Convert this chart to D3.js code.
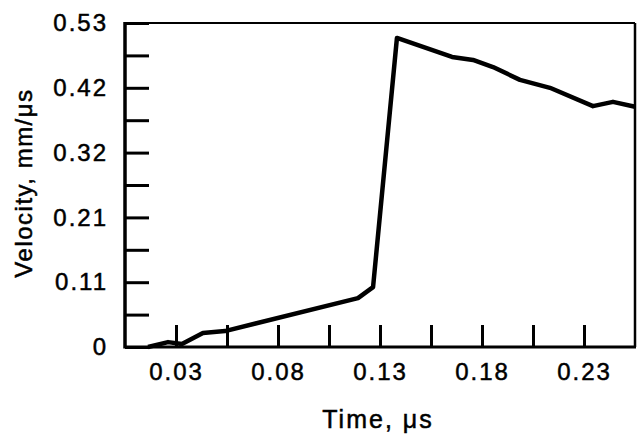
<!DOCTYPE html>
<html>
<head>
<meta charset="utf-8">
<script src="https://cdn.jsdelivr.net/npm/d3@7"></script>
<style>
  body { margin: 0; background: #fff; }
  text { font-family: "Liberation Sans", Arial, Helvetica, sans-serif; fill: #000; stroke: #000; stroke-width: 0.5px; }
</style>
</head>
<body>
<div id="chart"></div>
<script>
// curve (time in us, velocity in mm/us)
var timeVals = [0.0163, 0.0261, 0.0329, 0.0432, 0.054, 0.1192, 0.1266, 0.1383,
                0.1653, 0.1756, 0.1854, 0.1986, 0.2133, 0.2344, 0.2442, 0.255];
var velocityVals = [0, 0.008, 0.005, 0.023, 0.026, 0.080, 0.098, 0.5055,
                    0.4745, 0.4695, 0.458, 0.437, 0.424, 0.394, 0.401, 0.393];

var xTicks = [0.03, 0.055, 0.08, 0.105, 0.13, 0.155, 0.18, 0.205, 0.23];
var xTickLabels = ["0.03", "", "0.08", "", "0.13", "", "0.18", "", "0.23"];
var yTicks = [0, 0.053, 0.106, 0.159, 0.212, 0.265, 0.318, 0.371, 0.424, 0.477, 0.53];
var yTickLabels = ["0", "", "0.11", "", "0.21", "", "0.32", "", "0.42", "", "0.53"];

var margin = {top: 23, right: 2, bottom: 91, left: 125};
var width = 637 - margin.left - margin.right;
var height = 438 - margin.top - margin.bottom;

var svg = d3.select("#chart").append("svg")
    .attr("width", 637)
    .attr("height", 438);

var g = svg.append("g")
    .attr("transform", "translate(" + margin.left + "," + margin.top + ")");

var x = d3.scaleLinear().domain([0.005, 0.255]).range([0, width]);
var y = d3.scaleLinear().domain([0, 0.53]).range([height, 0]);

// x axis, ticks pointing up into the plot
var xAxis = g.append("g")
    .attr("transform", "translate(0," + height + ")")
    .call(d3.axisBottom(x)
        .tickValues(xTicks)
        .tickSize(-22)
        .tickPadding(16)
        .tickFormat(function(d, i) { return xTickLabels[i]; }));
xAxis.select(".domain").remove();
xAxis.selectAll(".tick line").attr("stroke", "#000").attr("stroke-width", 3);
xAxis.selectAll(".tick text")
    .attr("font-size", 24)
    .style("letter-spacing", "2px")
    .style("font-family", "'Liberation Sans', Arial, sans-serif");

// y axis, ticks pointing right into the plot
var yAxis = g.append("g")
    .call(d3.axisLeft(y)
        .tickValues(yTicks)
        .tickSize(-24)
        .tickPadding(17)
        .tickFormat(function(d, i) { return yTickLabels[i]; }));
yAxis.select(".domain").remove();
yAxis.selectAll(".tick line").attr("stroke", "#000").attr("stroke-width", 3);
yAxis.selectAll(".tick text")
    .attr("font-size", 24)
    .style("letter-spacing", "2px")
    .style("font-family", "'Liberation Sans', Arial, sans-serif");

// frame: heavy left and bottom, lighter top and right
g.append("line").attr("x1", 0).attr("x2", width).attr("y1", 0).attr("y2", 0)
    .attr("stroke", "#000").attr("stroke-width", 2);
g.append("line").attr("x1", width).attr("x2", width).attr("y1", 0).attr("y2", height)
    .attr("stroke", "#000").attr("stroke-width", 2.5);
g.append("line").attr("x1", 0).attr("x2", 0).attr("y1", -1).attr("y2", height + 1.5)
    .attr("stroke", "#000").attr("stroke-width", 3.5);
g.append("line").attr("x1", 0).attr("x2", width + 1).attr("y1", height).attr("y2", height)
    .attr("stroke", "#000").attr("stroke-width", 3);

// the velocity trace
var line = d3.line()
    .x(function(d, i) { return x(timeVals[i]); })
    .y(function(d, i) { return y(velocityVals[i]); });

g.append("path")
    .datum(timeVals)
    .attr("d", line)
    .attr("fill", "none")
    .attr("stroke", "#000")
    .attr("stroke-width", 4.5)
    .attr("stroke-linejoin", "round")
    .attr("stroke-linecap", "butt");

// axis titles
svg.append("text")
    .attr("x", margin.left + width / 2 - 2)
    .attr("y", 428)
    .attr("text-anchor", "middle")
    .attr("font-size", 25)
    .style("letter-spacing", "2px")
    .text("Time, \u03bcs");

svg.append("text")
    .attr("transform", "translate(32," + 183 + ") rotate(-90)")
    .attr("text-anchor", "middle")
    .attr("font-size", 24)
    .style("letter-spacing", "1.5px")
    .text("Velocity, mm/\u03bcs");
</script>
</body>
</html>
